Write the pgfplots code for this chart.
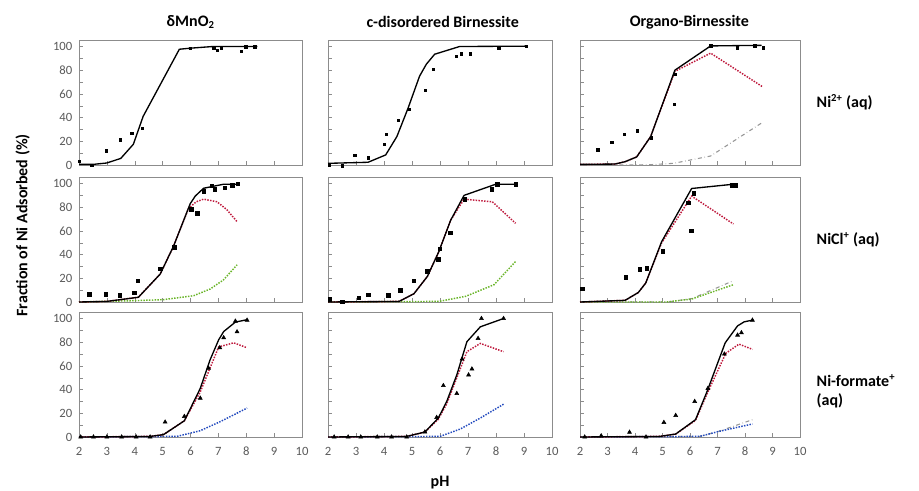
\documentclass[border=0pt]{standalone}
\usepackage{fontspec}
\setmainfont{Carlito}
\usepackage{pgfplots}
\pgfplotsset{compat=1.18}
\definecolor{nired}{RGB}{190,25,60}
\definecolor{nigreen}{RGB}{105,180,40}
\definecolor{niblue}{RGB}{35,75,190}
\definecolor{nigray}{RGB}{150,150,150}
\definecolor{frame}{RGB}{140,140,140}
\definecolor{ticktext}{RGB}{90,90,90}

\pgfplotsset{
  panel/.style={
    scale only axis, anchor=north west,
    height=93.75pt,
    xmin=2, xmax=10, ymin=0, ymax=105.5,
    xtick={2,...,10}, ytick={0,20,...,100}, minor ytick={10,30,...,90},
    tick align=inside, xtick pos=bottom, ytick pos=left,
    axis line style={frame}, tick style={frame},
    major tick length=3pt, minor tick length=3pt,
    tick label style={font=\fontsize{9.5}{11}\selectfont, text=ticktext},
    /pgf/number format/assume math mode=true,
    yticklabel style={xshift=-1.5pt},
    xticklabel style={yshift=-4pt},
    clip=false,
  },
  nox/.style={xticklabels={}},
  noy/.style={yticklabels={}},
  blk/.style={black, line width=1pt, no markers},
  rdot/.style={nired, densely dotted, line width=1.1pt, no markers},
  gdot/.style={nigreen, densely dotted, line width=1.1pt, no markers},
  bdot/.style={niblue, densely dotted, line width=1.1pt, no markers},
  gdd/.style={nigray, dash dot, line width=0.8pt, no markers},
  pts1/.style={only marks, mark=square*, mark size=0.9pt, black},
  pts2/.style={only marks, mark=square*, mark size=1.3pt, black},
  pts3/.style={only marks, mark=triangle*, mark size=1.7pt, black},
}

\begin{document}
\begin{tikzpicture}
\useasboundingbox (0,0) rectangle (689.25pt,-368.25pt);

% ---------- row 1 : Ni2+ ----------
\begin{axis}[panel, nox, at={(59.25pt,-30pt)}, width=167.25pt]
\addplot[blk] coordinates {(2,0.5)(2.5,0.5)(3,1.7)(3.5,5.6)(3.95,17.5)(4.3,41)(5.6,97.7)(6,98.6)(6.8,100)(8.4,100)};
\addplot[pts1] coordinates {(2,3.4)(2.46,0)(2.97,12)(3.48,21.4)(3.9,27)(4.28,31)(6,98.6)(6.83,99)(6.96,97)(7.1,99)(7.83,96)(7.98,99.7)(8.3,99.7)};
\end{axis}

\begin{axis}[panel, nox, noy, at={(246pt,-30pt)}, width=168pt]
\addplot[blk] coordinates {(2,1.4)(2.95,2)(3.43,2.3)(4.06,8.5)(4.46,24)(4.86,48)(5.27,75)(5.51,85)(5.81,93.5)(6.7,100)(9.08,100.3)};
\addplot[pts1] coordinates {(2.04,0)(2.51,-0.5)(2.95,8)(3.43,6)(4.02,17.5)(4.08,26)(4.51,38)(4.9,47)(5.48,63)(5.77,81)(6.58,92)(6.75,94)(7.08,94)(8.1,99)(9.08,100)};
\end{axis}

\begin{axis}[panel, nox, noy, at={(435pt,-30pt)}, width=165pt]
\addplot[gdd] coordinates {(2,0)(4.5,0.2)(5.4,1.4)(6.75,7.6)(8.64,36)};
\addplot[rdot] coordinates {(2,0.5)(3.27,0.8)(3.64,2.8)(4.06,6.8)(4.57,24)(5.45,79)(6.75,94.4)(8.64,66)};
\addplot[blk] coordinates {(2,0.5)(3.27,0.8)(3.64,2.8)(4.06,6.8)(4.57,24)(5.45,80)(6.75,100.5)(8.6,101)};
\addplot[pts1] coordinates {(2.64,13)(3.15,19)(3.6,26)(4.08,29)(4.6,23)(5.42,51.5)(5.45,76.6)(6.75,100.5)(7.72,99)(8.36,100.5)(8.67,99)};
\end{axis}

% ---------- row 2 : NiCl+ ----------
\begin{axis}[panel, nox, at={(59.25pt,-132.75pt)}, width=167.25pt]
\addplot[gdot] coordinates {(2,0)(3.95,1.1)(5.03,2)(6.11,5.3)(6.71,11)(7.19,18.8)(7.67,31.4)};
\addplot[rdot] coordinates {(2,0)(3,0.5)(4.13,4)(4.91,23.5)(5.39,47)(5.93,79)(6.2,84.5)(6.47,86.8)(6.95,84.6)(7.3,78)(7.67,67.8)};
\addplot[blk] coordinates {(2,0)(3,0.5)(4.13,4)(4.91,23.5)(5.39,47)(5.99,83)(6.17,89.4)(6.47,96)(7.19,99.4)(7.67,99.4)};
\addplot[pts2] coordinates {(2.37,6.7)(2.96,6.7)(3.47,5.6)(3.98,7.6)(4.11,18)(4.91,28)(5.42,46)(6.02,78.4)(6.24,74.8)(6.47,93.6)(6.77,98)(6.87,95)(7.23,96.6)(7.5,98.6)(7.7,99.7)};
\end{axis}

\begin{axis}[panel, nox, noy, at={(246pt,-132.75pt)}, width=168pt]
\addplot[gdot] coordinates {(2,0)(5.96,0.5)(6.92,4.8)(7.93,14.6)(8.7,34.2)};
\addplot[rdot] coordinates {(2,0)(4.54,0.5)(5.07,7)(5.55,21.6)(5.96,42.6)(6.38,69)(6.86,86.8)(7.87,84.6)(8.7,66.4)};
\addplot[blk] coordinates {(2,0)(4.54,0.5)(5.07,7)(5.55,21.6)(5.96,42.6)(6.38,69)(6.86,90)(7.99,99.4)(8.7,99.4)};
\addplot[pts2] coordinates {(2.06,2.5)(2.51,0)(3.1,3.4)(3.44,6.2)(4.15,5.6)(4.58,9.8)(5.07,18)(5.55,25.8)(5.94,36)(5.99,44.8)(6.36,58.5)(6.88,86.8)(7.85,95)(8.05,99.4)(8.7,99.4)};
\end{axis}

\begin{axis}[panel, nox, noy, at={(435pt,-132.75pt)}, width=165pt]
\addplot[gdd] coordinates {(2,0)(5.15,0)(6.06,2.8)(7.58,18)};
\addplot[gdot] coordinates {(2,0)(5.15,0)(6.06,2.5)(7.58,14.6)};
\addplot[rdot] coordinates {(2,0)(3.64,1.4)(4.12,8)(4.39,16)(4.97,50)(6.06,89.4)(7.58,65.8)};
\addplot[blk] coordinates {(2,0)(3.64,1.4)(4.12,8)(4.39,16)(4.97,51)(6.06,95.8)(7.58,99.4)};
\addplot[pts2] coordinates {(2.08,11.2)(3.67,21)(4.18,27.7)(4.42,28.3)(5,43)(6.05,60)(5.94,83.8)(6.13,91.6)(7.52,98.6)(7.64,98.6)};
\end{axis}

% ---------- row 3 : Ni-formate+ ----------
\begin{axis}[panel, at={(59.25pt,-234pt)}, width=167.25pt]
\addplot[bdot] coordinates {(2,0)(5.51,0.5)(6.35,5.3)(7.07,13)(8.03,24.4)};
\addplot[rdot] coordinates {(2,0)(4.55,0.5)(5.03,2)(5.78,13.7)(6.35,38)(7.01,76)(7.55,79.5)(8.03,75.3)};
\addplot[blk] coordinates {(2,0)(4.55,0.5)(5.03,2)(5.78,13.7)(6.35,41)(6.7,65)(7.01,82)(7.19,89)(7.61,97)(8.03,99)};
\addplot[pts3] coordinates {(2.06,0)(2.52,0)(3,0)(3.53,0)(4.05,0)(4.55,0)(5.09,12.6)(5.78,17.4)(6.35,32.8)(6.65,58)(7.05,75.4)(7.19,83.8)(7.67,88.8)(7.61,97.8)(8.03,98.6)};
\end{axis}

\begin{axis}[panel, noy, at={(246pt,-234pt)}, width=168pt]
\addplot[bdot] coordinates {(2,0)(6.0,0.5)(6.72,6.7)(7.44,16)(8.27,27.7)};
\addplot[rdot] coordinates {(2,0)(4.81,0.5)(5.46,4.2)(5.94,15)(6.24,28)(6.6,50)(6.96,72)(7.44,79)(8.27,72)};
\addplot[blk] coordinates {(2,0)(4.81,0.5)(5.46,4.2)(5.94,16)(6.24,30)(6.6,52.4)(6.96,80.4)(7.44,93)(8.27,100)};
\addplot[pts3] coordinates {(2.22,0)(2.72,0)(3.17,0)(3.76,0)(4.27,0)(4.81,0)(5.46,4.2)(5.88,16.5)(6.12,43.4)(6.6,36.7)(6.79,65.8)(7.02,52.4)(7.14,57.4)(7.36,83.2)(7.48,100)(8.27,100)};
\end{axis}

\begin{axis}[panel, noy, at={(435pt,-234pt)}, width=165pt]
\addplot[gdd] coordinates {(2,0)(6.35,0.5)(7.07,5)(8.27,14.6)};
\addplot[bdot] coordinates {(2,0)(6.35,0.5)(7.07,4.8)(8.27,11)};
\addplot[rdot] coordinates {(2,0)(4.9,0.5)(5.48,2.5)(6.2,14)(6.61,36)(7.3,70.6)(7.78,78.4)(8.27,74)};
\addplot[blk] coordinates {(2,0)(4.9,0.5)(5.48,2.5)(6.2,14.6)(6.61,37.8)(7.28,79.5)(7.73,93.8)(7.97,97.2)(8.27,98.6)};
\addplot[pts3] coordinates {(2.17,0)(2.77,1)(3.8,4)(4.4,0)(5.05,12.3)(5.48,18.2)(6.17,30)(6.65,41)(7.25,70)(7.73,86)(7.87,88)(8.27,98.6)};
\end{axis}

% ---------- titles and labels ----------
\begin{scope}[every node/.style={font=\bfseries\fontsize{12}{14}\selectfont}]
\node at (143pt,-16.5pt) {δMnO\textsubscript{2}};
\node at (332pt,-16.5pt) {c-disordered Birnessite};
\node at (517pt,-16.5pt) {Organo-Birnessite};
\node[rotate=90] at (17pt,-169pt) {Fraction of Ni Adsorbed (\%)};
\node at (330pt,-362pt) {pH};
\node[anchor=west] at (609pt,-76.5pt) {Ni\textsuperscript{2+} (aq)};
\node[anchor=west] at (609pt,-180pt) {NiCl\textsuperscript{+} (aq)};
\node[anchor=west, align=left] at (609pt,-293.5pt) {Ni-formate\textsuperscript{+}\\(aq)};
\end{scope}
\end{tikzpicture}
\end{document}
